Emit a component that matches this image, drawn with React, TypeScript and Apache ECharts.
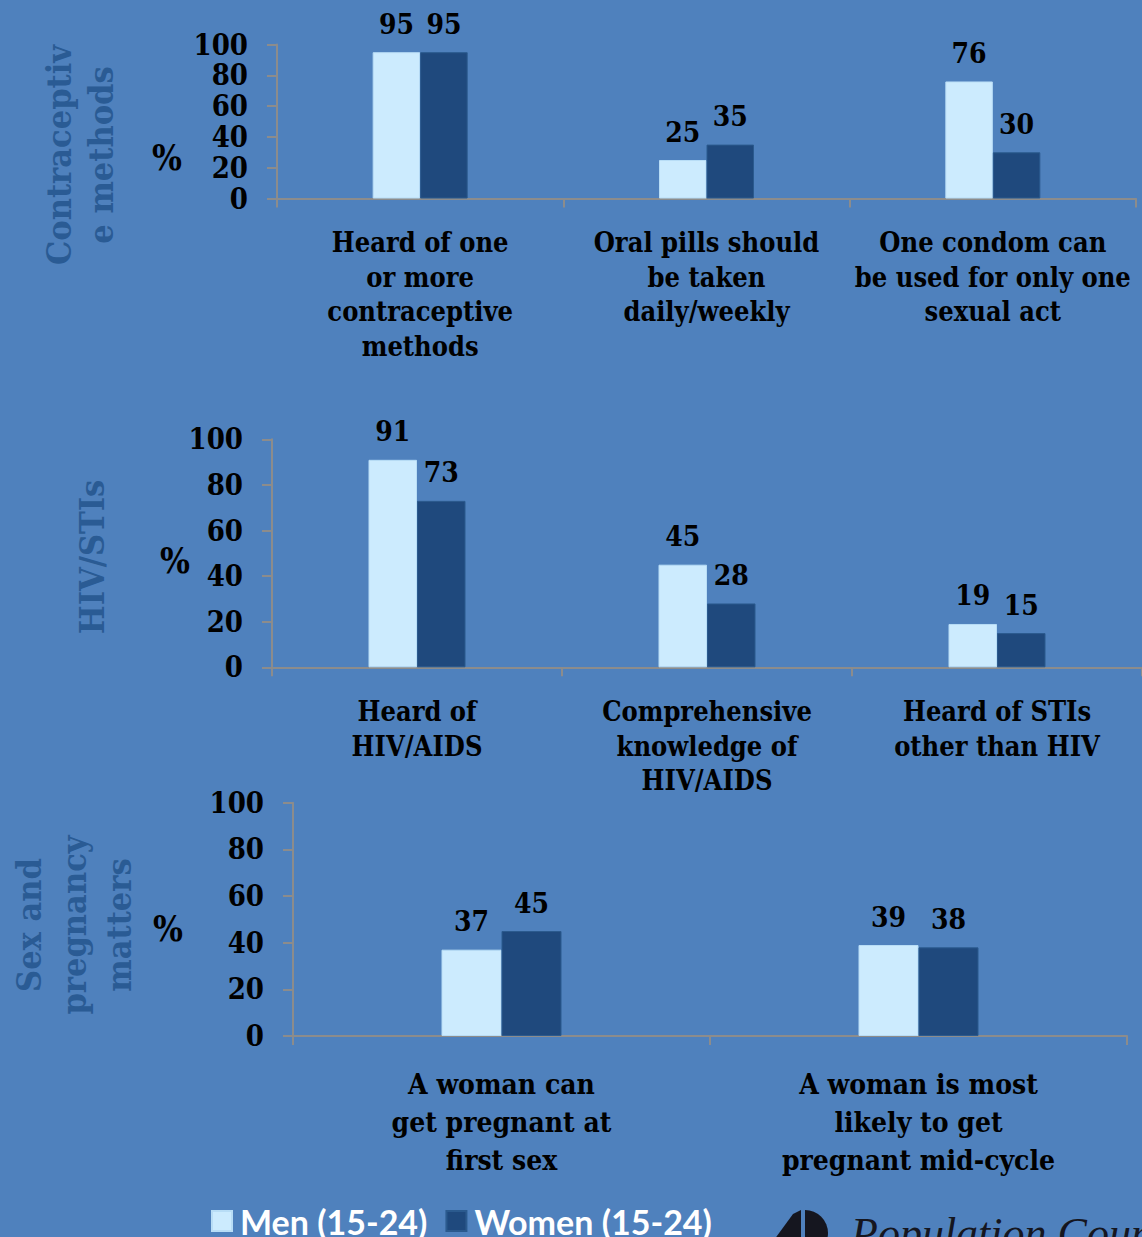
import React, { useEffect, useRef } from "react";
import * as echarts from "echarts";

// Knowledge indicators, percent of young people aged 15-24
const seriesNames = ["Men (15-24)", "Women (15-24)"];

const contraceptiveCategories = [
  "Heard of one\nor more\ncontraceptive\nmethods",
  "Oral pills should\nbe taken\ndaily/weekly",
  "One condom can\nbe used for only one\nsexual act",
];
const contraceptiveMen = [95, 25, 76];
const contraceptiveWomen = [95, 35, 30];

const hivCategories = [
  "Heard of\nHIV/AIDS",
  "Comprehensive\nknowledge of\nHIV/AIDS",
  "Heard of STIs\nother than HIV",
];
const hivMen = [91, 45, 19];
const hivWomen = [73, 28, 15];

const pregnancyCategories = [
  "A woman can\nget pregnant at\nfirst sex",
  "A woman is most\nlikely to get\npregnant mid-cycle",
];
const pregnancyMen = [37, 39];
const pregnancyWomen = [45, 38];

const yMin = 0;
const yMax = 100;
const yStep = 20;

const BG = "#4F81BD";
const MEN = "#CCEBFE";
const WOMEN = "#1F497D";
const SIDE = "#2A5B94";
const AXIS = "#8C8C8C";
const SERIF = "'DejaVu Serif Condensed', 'Liberation Serif', serif";
const SANS = "Lato, 'Open Sans', sans-serif";

type Panel = {
  categories: string[];
  men: number[];
  women: number[];
  left: number;
  top: number;
  width: number;
  height: number;
  barWidth: number;
  catFont: number;
  catLine: number;
  catMargin: number;
};

const panels: Panel[] = [
  {
    categories: contraceptiveCategories,
    men: contraceptiveMen,
    women: contraceptiveWomen,
    left: 277,
    top: 44.5,
    width: 859,
    height: 154,
    barWidth: 47.5,
    catFont: 27,
    catLine: 34.5,
    catMargin: 27,
  },
  {
    categories: hivCategories,
    men: hivMen,
    women: hivWomen,
    left: 272,
    top: 439.3,
    width: 873,
    height: 228,
    barWidth: 48.5,
    catFont: 27,
    catLine: 34.5,
    catMargin: 27,
  },
  {
    categories: pregnancyCategories,
    men: pregnancyMen,
    women: pregnancyWomen,
    left: 293,
    top: 802.7,
    width: 834,
    height: 233.3,
    barWidth: 60,
    catFont: 28,
    catLine: 38,
    catMargin: 29,
  },
];

function buildOption() {
  const grid = panels.map((p) => ({
    left: p.left,
    top: p.top,
    width: p.width,
    height: p.height,
    containLabel: false,
  }));

  const xAxis = panels.map((p, i) => ({
    type: "category",
    gridIndex: i,
    data: p.categories,
    axisLine: { lineStyle: { color: AXIS, width: 2 } },
    axisTick: { show: true, length: 9, lineStyle: { color: AXIS, width: 2 } },
    axisLabel: {
      interval: 0,
      color: "#000",
      fontFamily: SERIF,
      fontWeight: "bold",
      fontSize: p.catFont,
      lineHeight: p.catLine,
      margin: p.catMargin,
    },
  }));

  const yAxis = panels.map((_, i) => ({
    type: "value",
    gridIndex: i,
    min: yMin,
    max: yMax,
    interval: yStep,
    splitLine: { show: false },
    axisLine: { show: true, lineStyle: { color: AXIS, width: 2 } },
    axisTick: { show: true, length: 10, lineStyle: { color: AXIS, width: 2 } },
    axisLabel: {
      color: "#000",
      fontFamily: SERIF,
      fontWeight: "bold",
      fontSize: 29,
      margin: 29,
    },
  }));

  const valueLabel = {
    show: true,
    position: "top",
    distance: 13,
    color: "#000",
    fontFamily: SERIF,
    fontWeight: "bold",
    fontSize: 28,
    lineHeight: 30,
  };

  const series: any[] = [];
  panels.forEach((p, i) => {
    series.push({
      name: seriesNames[0],
      type: "bar",
      xAxisIndex: i,
      yAxisIndex: i,
      data: p.men,
      barWidth: p.barWidth,
      barGap: "0%",
      itemStyle: { color: MEN, borderColor: "#B8DDF6", borderWidth: 1 },
      label: valueLabel,
    });
    series.push({
      name: seriesNames[1],
      type: "bar",
      xAxisIndex: i,
      yAxisIndex: i,
      data: p.women,
      barWidth: p.barWidth,
      barGap: "0%",
      itemStyle: { color: WOMEN, borderColor: "#2B5A8E", borderWidth: 1 },
      label: valueLabel,
    });
  });

  const sideText = (x: number, y: number, text: string, lineHeight: number) => ({
    type: "text",
    x,
    y,
    rotation: Math.PI / 2,
    style: {
      text,
      fill: SIDE,
      font: `bold 34px ${SERIF}`,
      align: "center",
      verticalAlign: "middle",
      lineHeight,
    },
  });

  const percentText = (x: number, y: number) => ({
    type: "text",
    x,
    y,
    style: {
      text: "%",
      fill: "#000",
      font: `bold 35px ${SERIF}`,
      align: "center",
      verticalAlign: "middle",
    },
  });

  const graphic = [
    sideText(80, 155, "Contraceptiv\ne methods", 42),
    sideText(92, 557, "HIV/STIs", 42),
    sideText(74, 925, "Sex and\npregnancy\nmatters", 45),
    percentText(167, 157),
    percentText(175, 560),
    percentText(168, 928),
    {
      type: "polygon",
      shape: {
        points: [
          [774, 1240],
          [793, 1214],
          [801, 1210],
          [801, 1240],
        ],
      },
      style: { fill: "#15161F" },
    },
    {
      type: "sector",
      shape: { cx: 805, cy: 1233, r0: 0, r: 23, startAngle: -Math.PI / 2, endAngle: Math.PI / 2 },
      style: { fill: "#15161F" },
    },
    {
      type: "text",
      x: 851,
      y: 1211,
      style: {
        text: "Population Council",
        fill: "#15161F",
        font: `italic 44px 'Liberation Serif', serif`,
        align: "left",
        verticalAlign: "top",
      },
    },
  ];

  return {
    animation: false,
    backgroundColor: BG,
    grid,
    xAxis,
    yAxis,
    series,
    legend: {
      data: seriesNames,
      left: 206,
      top: 1199,
      orient: "horizontal",
      icon: "rect",
      itemWidth: 20,
      itemHeight: 20,
      itemGap: 18,
      textStyle: {
        color: "#fff",
        fontFamily: SANS,
        fontWeight: "bold",
        fontSize: 34,
        padding: [0, 0, 0, 3],
      },
    },
    graphic,
  };
}

export default function App() {
  const ref = useRef<HTMLDivElement>(null);

  useEffect(() => {
    if (!ref.current) return;
    const chart = echarts.init(ref.current, null, { renderer: "svg" });
    chart.setOption(buildOption() as any);
    return () => chart.dispose();
  }, []);

  return (
    <div
      ref={ref}
      style={{
        position: "fixed",
        left: 0,
        top: 0,
        width: 1142,
        height: 1237,
        background: BG,
      }}
    />
  );
}
